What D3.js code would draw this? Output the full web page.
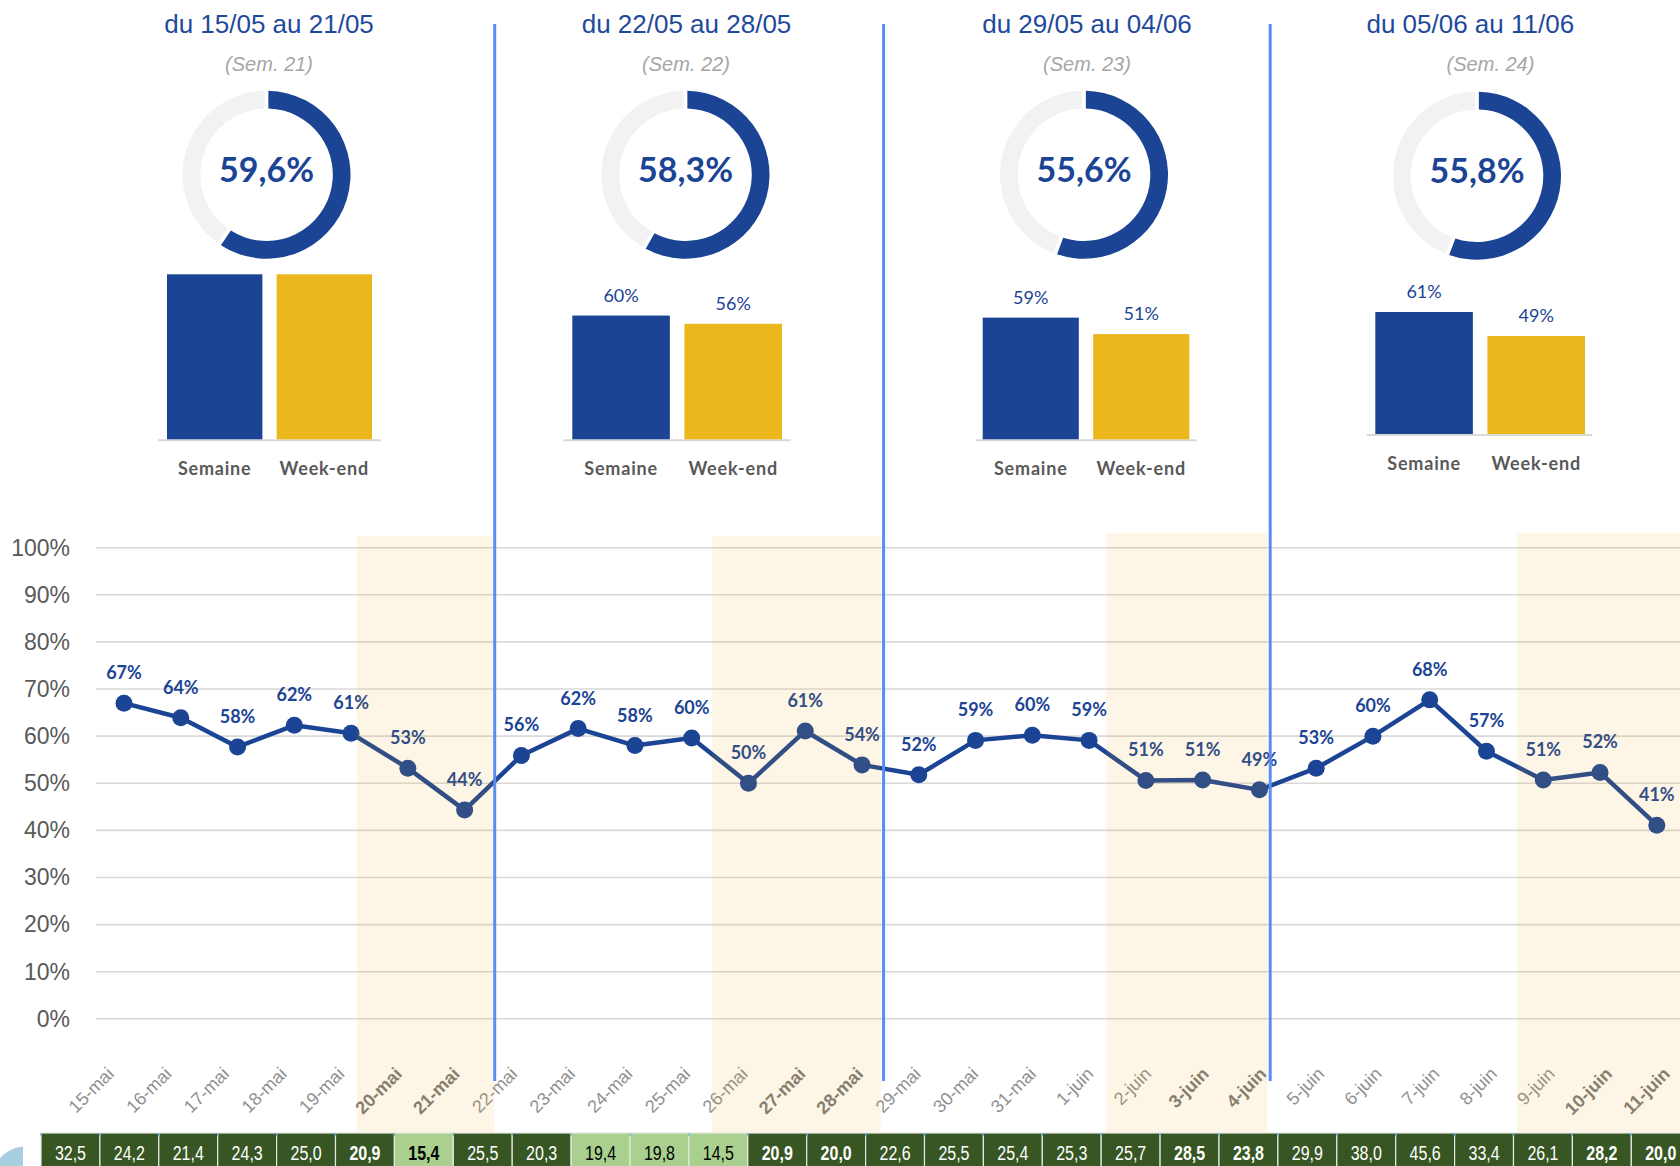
<!DOCTYPE html>
<html><head><meta charset="utf-8">
<script src="https://cdn.jsdelivr.net/npm/d3@7"></script>
<style>
html,body{margin:0;padding:0;background:#fff;}
svg{display:block;}
</style></head>
<body>
<script>
// ---------------- DATA ----------------
const days = ["15-mai","16-mai","17-mai","18-mai","19-mai","20-mai","21-mai","22-mai","23-mai","24-mai","25-mai","26-mai","27-mai","28-mai","29-mai","30-mai","31-mai","1-juin","2-juin","3-juin","4-juin","5-juin","6-juin","7-juin","8-juin","9-juin","10-juin","11-juin"];
const dailyRate = [0.670,0.639,0.577,0.623,0.606,0.532,0.443,0.559,0.616,0.580,0.596,0.500,0.611,0.539,0.518,0.591,0.602,0.591,0.506,0.507,0.486,0.532,0.600,0.677,0.568,0.507,0.523,0.411];
const tableValues = [32.5,24.2,21.4,24.3,25.0,20.9,15.4,25.5,20.3,19.4,19.8,14.5,20.9,20.0,22.6,25.5,25.4,25.3,25.7,28.5,23.8,29.9,38.0,45.6,33.4,26.1,28.2,20.0];
const weekendDays = ["20-mai","21-mai","27-mai","28-mai","3-juin","4-juin","10-juin","11-juin"];
// highlighted periods (in day-index units)
const shadedStart = [4.10, 10.36, 17.30, 24.54];
const shadedEnd   = [6.52, 13.33, 20.14, 28.2];
const shadedTop   = [1.025, 1.025, 1.031, 1.031];
const weekSeparators = [6.53, 13.38, 20.19];
const yTicks = [0,0.1,0.2,0.3,0.4,0.5,0.6,0.7,0.8,0.9,1.0];

const weekTitles = ["du 15/05 au 21/05","du 22/05 au 28/05","du 29/05 au 04/06","du 05/06 au 11/06"];
const weekSubtitles = ["(Sem. 21)","(Sem. 22)","(Sem. 23)","(Sem. 24)"];
const weekRate = [0.596,0.583,0.556,0.558];
const barCategories = ["Semaine","Week-end"];
const barSemaine = [0.80,0.60,0.59,0.61];   // week 1 bars reach the axis maximum (labels hidden)
const barWeekend = [0.80,0.56,0.51,0.49];
const barAxisMax = 0.80;

// ---------------- LAYOUT ----------------
const W = 1680, H = 1166;
const panels = [
  {tx:269,  sx:269,  cx:266.5, cy:174.7, bL:167,   bR:372,   aL:158,   aR:381,   base:439.3, h:165},
  {tx:686.5,sx:686,  cx:685.5, cy:174.7, bL:572.3, bR:782,   aL:563.3, aR:790.7, base:439.3, h:165},
  {tx:1087, sx:1087, cx:1084,  cy:174.7, bL:982.7, bR:1189.3,aL:975.7, aR:1196.7,base:439.3, h:165},
  {tx:1470.3,sx:1490.5,cx:1477,cy:175.7, bL:1375.3,bR:1585,  aL:1366.7,aR:1592,  base:434,   h:160}
];
const BLUE = "#1c4494", GOLD = "#ebb71c", TITLE = "#1f4a9b";

const fr = d3.formatLocale({decimal:",", thousands:" ", grouping:[3], currency:["","€"]});
const fmt1 = fr.format(".1f");
const pct1 = fr.format(".1%");

const svg = d3.select("body").append("svg").attr("width",W).attr("height",H)
  .style("font-family","'Liberation Sans', Arial, sans-serif");

// ---------------- LINE CHART ----------------
const x = d3.scalePoint().domain(days).range([124, 1656.8]);
const xi = d3.scaleLinear().domain([0, days.length-1]).range([124, 1656.8]);
const y = d3.scaleLinear().domain([0,1]).range([1018.8, 547.7]);
const xl = d3.scalePoint().domain(days).range([115, 1671]);
const tableTop = 1133;

const chart = svg.append("g");
chart.append("g").selectAll("line").data(yTicks).join("line")
  .attr("x1",96).attr("x2",W).attr("y1",d=>y(d)).attr("y2",d=>y(d))
  .attr("stroke","#d9d9d9").attr("stroke-width",1.6);

const yAxis = chart.append("g").attr("transform","translate(70,0)")
  .call(d3.axisLeft(y).tickValues(yTicks).tickFormat(d3.format(".0%")).tickSize(0).tickPadding(0));
yAxis.select(".domain").remove();
yAxis.selectAll("text").attr("font-size",23).attr("fill","#595959")
  .attr("font-family","'Liberation Sans', Arial, sans-serif");

const pts = days.map((d,i)=>({day:d, v:dailyRate[i]}));
chart.append("path").datum(pts)
  .attr("d", d3.line().x(d=>x(d.day)).y(d=>y(d.v)))
  .attr("fill","none").attr("stroke",BLUE).attr("stroke-width",4.5).attr("stroke-linejoin","round");
chart.append("g").selectAll("circle").data(pts).join("circle")
  .attr("cx",d=>x(d.day)).attr("cy",d=>y(d.v)).attr("r",8.5).attr("fill",BLUE);
chart.append("g").selectAll("text").data(pts).join("text")
  .attr("x",d=>x(d.day)).attr("y",d=>y(d.v)-24)
  .attr("text-anchor","middle").attr("font-family","Lato").attr("font-weight","bold")
  .attr("font-size",18).attr("fill",BLUE)
  .text(d=>Math.round(d.v*100)+"%");

// x labels
chart.append("g").selectAll("text").data(days).join("text")
  .attr("transform",d=>`translate(${xl(d)},1075) rotate(-45)`)
  .attr("text-anchor","end")
  .attr("font-size",18)
  .attr("font-weight",d=>weekendDays.includes(d)?"bold":"normal")
  .attr("fill",d=>weekendDays.includes(d)?"#7b7b7b":"#8f8f8f")
  .text(d=>d);

// shaded periods (translucent overlay)
chart.append("g").selectAll("rect").data(shadedStart.map((s,i)=>({s, e:shadedEnd[i], t:shadedTop[i]}))).join("rect")
  .attr("x",d=>xi(d.s)).attr("width",d=>xi(d.e)-xi(d.s))
  .attr("y",d=>y(d.t)).attr("height",d=>tableTop-y(d.t))
  .attr("fill","#eba505").attr("fill-opacity",0.1);

// week separators
chart.append("g").selectAll("line").data(weekSeparators).join("line")
  .attr("x1",d=>xi(d)).attr("x2",d=>xi(d)).attr("y1",24).attr("y2",1081)
  .attr("stroke","#5b8cf5").attr("stroke-width",3);

// ---------------- TABLE ----------------
const tx = d3.scaleBand().domain(days).range([41, 41 + 28*58.9]);
const table = svg.append("g");
const cells = table.selectAll("g").data(days.map((d,i)=>({day:d, v:tableValues[i]}))).join("g");
cells.append("rect")
  .attr("x",d=>tx(d.day)).attr("y",tableTop).attr("width",tx.bandwidth()).attr("height",H-tableTop+2)
  .attr("fill",d=>d.v<20?"#a9d08e":"#375623").attr("stroke","#e4e9e0").attr("stroke-width",1.2);
cells.append("line")
  .attr("x1",d=>tx(d.day)).attr("x2",d=>tx(d.day)).attr("y1",tableTop).attr("y2",tableTop+3)
  .attr("stroke","#5ab4e6").attr("stroke-width",1.2);
cells.append("text")
  .attr("transform",d=>`translate(${tx(d.day)+tx.bandwidth()/2},1159.5) scale(0.78,1)`)
  .attr("text-anchor","middle").attr("font-size",20.5)
  .attr("font-weight",d=>weekendDays.includes(d.day)?"bold":"normal")
  .attr("fill",d=>d.v<20?"#000":"#fff")
  .text(d=>fmt1(d.v));

// decorative swoosh bottom-left
svg.append("path").attr("d","M0,1158 Q9,1148 23,1146.5 L23,1166 L0,1166 Z").attr("fill","#a8cfe0");

// ---------------- WEEK PANELS ----------------
const arc = d3.arc().innerRadius(66.3).outerRadius(84);
const pie = d3.pie().sort(null).padAngle(0.035);

panels.forEach((p,i)=>{
  const g = svg.append("g");
  g.append("text").attr("x",p.tx).attr("y",33).attr("text-anchor","middle")
    .attr("font-size",26).attr("fill",TITLE).text(weekTitles[i]);
  g.append("text").attr("x",p.sx).attr("y",71).attr("text-anchor","middle")
    .attr("font-size",20).attr("font-style","italic").attr("fill","#a6a6a6").text(weekSubtitles[i]);

  const dg = g.append("g").attr("transform",`translate(${p.cx},${p.cy})`);
  dg.selectAll("path").data(pie([weekRate[i], 1-weekRate[i]])).join("path")
    .attr("d",arc).attr("fill",(d,j)=>j===0?BLUE:"#f2f2f2");
  dg.append("text").attr("y",7).attr("text-anchor","middle")
    .attr("font-family","Lato").attr("font-weight","bold").attr("font-size",34).attr("fill",BLUE)
    .text(pct1(weekRate[i]));

  const bx = d3.scaleBand().domain(barCategories).range([p.bL,p.bR]).paddingInner(0.13);
  const by = d3.scaleLinear().domain([0,barAxisMax]).range([p.base, p.base-p.h]).clamp(true);
  const vals = [barSemaine[i], barWeekend[i]];
  const cols = [BLUE, GOLD];
  g.append("line").attr("x1",p.aL).attr("x2",p.aR).attr("y1",p.base+1).attr("y2",p.base+1)
    .attr("stroke","#d9d9d9").attr("stroke-width",2);
  g.selectAll("rect.bar").data(barCategories).join("rect").attr("class","bar")
    .attr("x",c=>bx(c)).attr("width",bx.bandwidth())
    .attr("y",(c,j)=>by(vals[j])).attr("height",(c,j)=>p.base-by(vals[j]))
    .attr("fill",(c,j)=>cols[j]);
  g.selectAll("text.val").data(barCategories.filter((c,j)=>vals[j]<barAxisMax)).join("text").attr("class","val")
    .attr("x",c=>bx(c)+bx.bandwidth()/2)
    .attr("y",c=>by(vals[barCategories.indexOf(c)])-14)
    .attr("text-anchor","middle").attr("font-family","Lato").attr("font-size",18).attr("fill",BLUE)
    .text(c=>Math.round(vals[barCategories.indexOf(c)]*100)+"%");
  g.selectAll("text.cat").data(barCategories).join("text").attr("class","cat")
    .attr("x",c=>bx(c)+bx.bandwidth()/2).attr("y",p.base+35.7)
    .attr("text-anchor","middle").attr("font-family","Lato").attr("font-weight","bold")
    .attr("font-size",18).attr("letter-spacing",0.8).attr("fill","#595959").text(c=>c);
});
</script>
</body></html>
